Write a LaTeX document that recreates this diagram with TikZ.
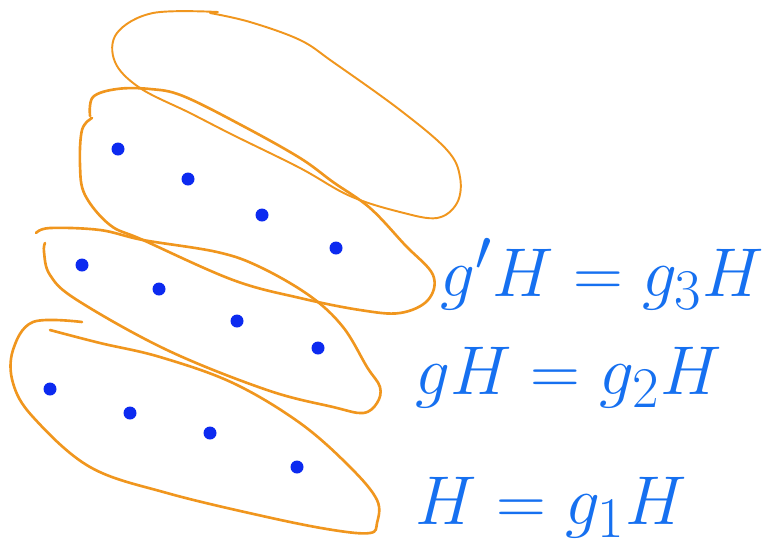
\documentclass[tikz,border=0pt]{standalone}
\usepackage{amsmath}
\definecolor{loopcol}{RGB}{240,150,30}
\definecolor{dotcol}{RGB}{12,42,240}
\definecolor{inkcol}{RGB}{22,112,240}
\begin{document}
\begin{tikzpicture}[x=0.02cm, y=-0.02cm, line cap=round, line join=round,
    coset/.style={draw=loopcol, line width=1.5pt},
    elem/.style={fill=dotcol},
    eqn/.style={inkcol, anchor=base west, inner sep=0pt, font=\Huge, scale=1.58, transform shape}]
    \useasboundingbox (0,0) rectangle (770,552);
    \draw[coset, line width=1.1pt] plot[smooth, tension=0.6] coordinates {(218,12) (153,13) (117,33) (115,62) (140,88) (190,113) (233,135) (300,168) (350,196) (400,212) (437,218) (457,203) (460,177) (447,150) (400,110) (333,62) (300,40) (250,22) (210,13)};
    \draw[coset] plot[smooth, tension=0.6] coordinates {(90,116) (93,97) (117,89) (150,89) (183,96) (243,126) (300,158) (333,182) (370,208) (405,245) (433,275) (428,300) (400,313) (360,310) (300,298) (233,280) (143,240) (110,225) (85,195) (80,165) (82,130) (92,118)};
    \draw[coset] plot[smooth, tension=0.6] coordinates {(36,233) (50,228) (100,230) (143,240) (217,252) (260,267) (310,296) (343,327) (367,367) (380,387) (377,403) (363,413) (333,407) (267,390) (167,350) (77,300) (50,275) (44,252) (45,243)};
    \draw[coset] plot[smooth, tension=0.6] coordinates {(82,322) (33,322) (13,350) (13,383) (33,417) (90,467) (167,493) (267,517) (333,530) (370,533) (377,523) (377,500) (350,467) (300,423) (233,383) (160,357) (100,343) (50,330)};
    \foreach \px/\py in {118/149, 188/179, 262/215, 336/248,
                        82/265, 159/289, 237/321, 318/348,
                        50/389, 130/413, 210/433, 297/467}
        \fill[elem] (\px,\py) circle (6.5);
    \node[eqn] (third) at (440,296) {$g'H = g_3H$};
    \node[eqn] (second) at (415,394) {$gH = g_2H$};
    \node[eqn] (first) at (415,524) {$H = g_1H$};
\end{tikzpicture}
\end{document}
